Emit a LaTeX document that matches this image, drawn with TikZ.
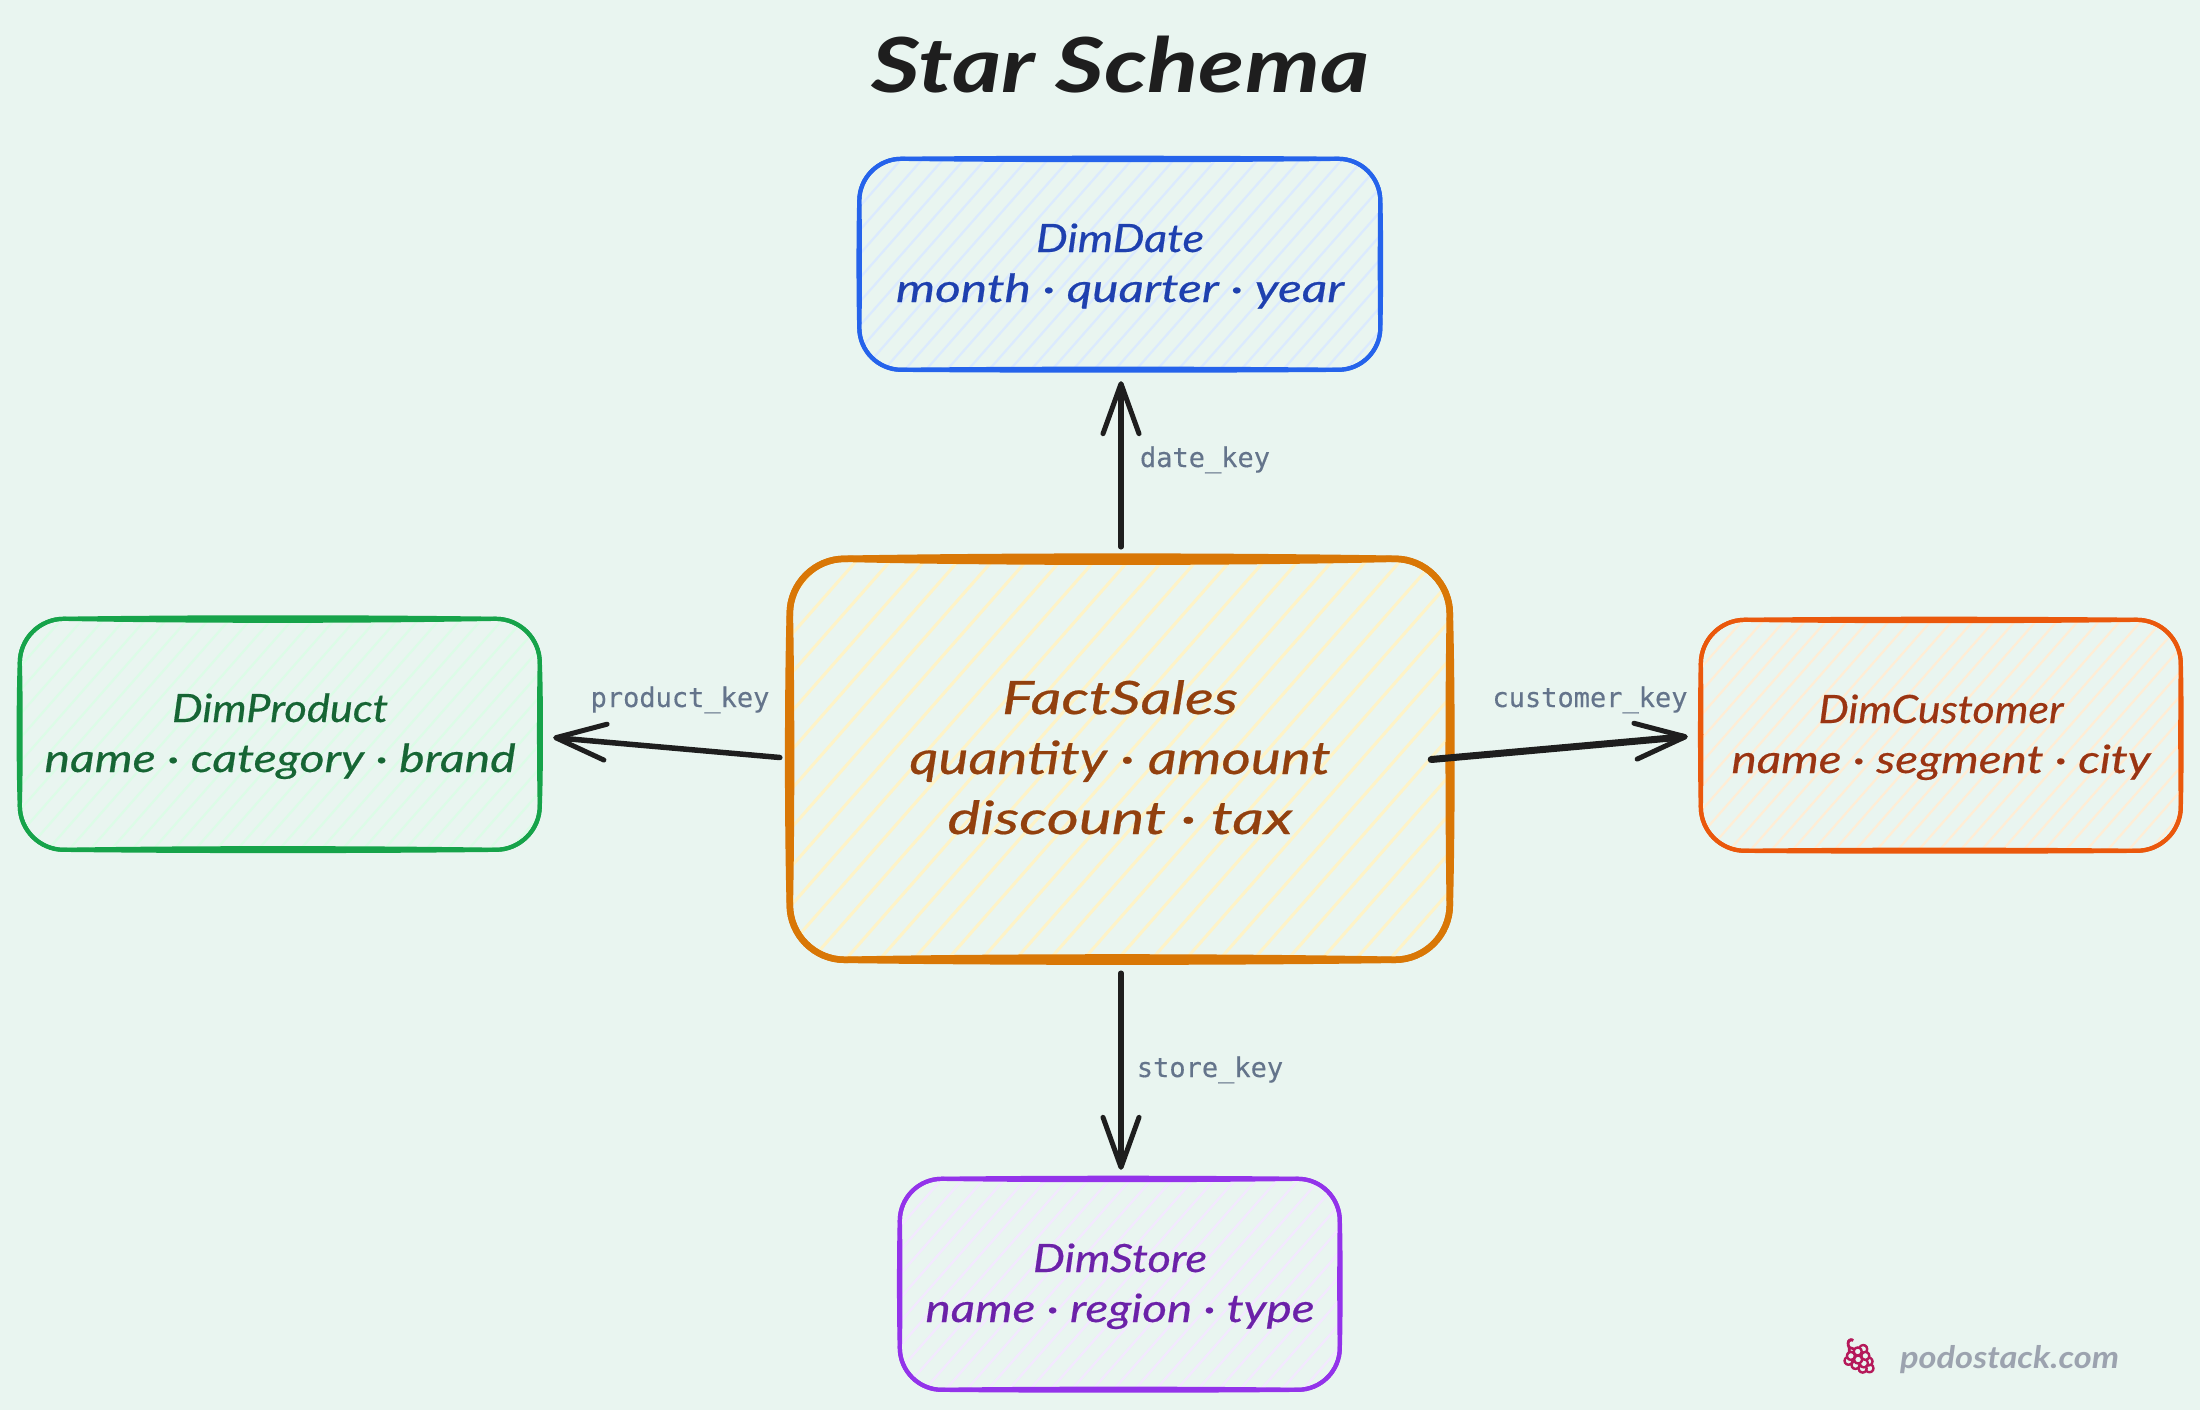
\documentclass[tikz,border=0pt]{standalone}
\usepackage{fontspec}
\usepackage{graphicx}
\usetikzlibrary{arrows.meta,calc}
\setmainfont{Lato}
\newfontfamily\hand{Lato}[ItalicFeatures={FakeBold=0.45}]
\newfontfamily\handb{Lato}
\newfontfamily\mono{DejaVu Sans Mono}[FakeBold=0.3]
\newfontfamily\emo{Noto Emoji}[FakeBold=3]
\definecolor{bgc}{HTML}{E9F5F0}
\definecolor{inkc}{HTML}{1E1E1E}
\definecolor{keyc}{HTML}{64748B}
\definecolor{markc}{HTML}{9CA3AF}
\definecolor{grapec}{HTML}{B5195A}
\definecolor{factS}{HTML}{D97706}\definecolor{factT}{HTML}{92400E}\definecolor{factH}{HTML}{FEF3C7}
\definecolor{dateS}{HTML}{2563EB}\definecolor{dateT}{HTML}{1E40AF}\definecolor{dateH}{HTML}{DBEAFE}
\definecolor{prodS}{HTML}{16A34A}\definecolor{prodT}{HTML}{166534}\definecolor{prodH}{HTML}{DCFCE7}
\definecolor{custS}{HTML}{EA580C}\definecolor{custT}{HTML}{9A3412}\definecolor{custH}{HTML}{FFEDD5}
\definecolor{storS}{HTML}{9333EA}\definecolor{storT}{HTML}{6B21A8}\definecolor{storH}{HTML}{F3E8FF}
% one line of hand text stretched to a given width at fixed font size
\newcommand\fitl[2]{\resizebox{#1pt}{\height}{#2}}
\newcommand\firstl{\rule{0pt}{44pt}}
\newcommand\lastl{\rule[-19pt]{0pt}{19pt}}
% hachure inside the node outline
\newcommand\hachure[5]{% colour, step, width, height, stroke
  \foreach \p in {0,#2,...,1500}{
    \draw[#1,line width=#5] ($(path picture bounding box.north west)+(\p,0)$) -- ++(-0.88*#4,#4);
  }}
\newcommand\roughpass[8]{%
  \pgfmathsetmacro\rW{#1}\pgfmathsetmacro\rH{#2}\pgfmathsetmacro\rR{#3}
  \draw[#4] (\rR,0)
   .. controls (\rW*.33,#5) and (\rW*.66,#5) .. (\rW-\rR,0)
   .. controls (\rW-.45*\rR,0) and (\rW,.45*\rR) .. (\rW,\rR)
   .. controls (\rW+#6,\rH*.33) and (\rW+#6,\rH*.66) .. (\rW,\rH-\rR)
   .. controls (\rW,\rH-.45*\rR) and (\rW-.45*\rR,\rH) .. (\rW-\rR,\rH)
   .. controls (\rW*.66,\rH+#7) and (\rW*.33,\rH+#7) .. (\rR,\rH)
   .. controls (.45*\rR,\rH) and (0,\rH-.45*\rR) .. (0,\rH-\rR)
   .. controls (#8,\rH*.66) and (#8,\rH*.33) .. (0,\rR)
   .. controls (0,.45*\rR) and (.45*\rR,0) .. (\rR,0) -- cycle;}
\newcommand\roughbox[6]{% name W H r style amp
  \begin{scope}[shift={(#1.north west)}]
    \roughpass{#2}{#3}{#4}{#5}{-1.2*#6}{.9*#6}{1.0*#6}{-.9*#6}
    \roughpass{#2}{#3}{#4}{#5}{1.6*#6}{-.6*#6}{-1.3*#6}{.7*#6}
  \end{scope}}
\tikzset{
  factbox/.style={inner sep=0pt,align=center,text=factT,minimum width=660pt,minimum height=401pt,rounded corners=55pt,
     font=\hand\itshape\fontsize{46}{60}\selectfont,
     path picture={\hachure{factH}{34}{660}{401}{3pt}}},
  dimbox/.style n args={5}{inner sep=0pt,align=center,text=#1,minimum width=#3pt,minimum height=#4pt,rounded corners=#5pt,
     font=\hand\itshape\fontsize{39}{50}\selectfont,
     path picture={\hachure{#2}{21}{#3}{#4}{2.2pt}}},
  link/.style={draw=inkc,line width=#1,line cap=round,-{Straight Barb[length=50pt,width=36pt,line width=5pt,round]}},
  keylabel/.style={text=keyc,font=\mono\fontsize{27}{30}\selectfont,anchor=base,inner sep=0pt},
  titletext/.style={text=inkc,font=\handb\itshape\bfseries\fontsize{76}{80}\selectfont,anchor=base,inner sep=0pt},
  marktext/.style={text=markc,font=\handb\itshape\bfseries\fontsize{31}{36}\selectfont,anchor=base,inner sep=0pt},
  grapetext/.style={text=grapec,font=\emo\fontsize{34}{36}\selectfont,anchor=center,inner sep=0pt},
}
\begin{document}
\begin{tikzpicture}[x=1pt,y=-1pt]
\useasboundingbox (0,0) rectangle (2200,1410);
\fill[bgc] (0,0) rectangle (2200,1410);

\node[titletext] (title) at (1120.5,93) {\fitl{497}{Star Schema}};

\node[factbox] (fact) at (1120,759.5) {\rule{0pt}{49pt}\fitl{236}{FactSales}\\\fitl{421}{quantity · amount}\\\fitl{345}{discount · tax}\rule[-20pt]{0pt}{20pt}};
\node[dimbox={dateT}{dateH}{521}{211}{42}] (date) at (1120,264.5) {\firstl\fitl{168}{DimDate}\\\fitl{448}{month · quarter · year}\lastl};
\node[dimbox={prodT}{prodH}{520}{231}{44}] (product) at (280,734.5) {\firstl\fitl{216}{DimProduct}\\\fitl{471}{name · category · brand}\lastl};
\node[dimbox={custT}{custH}{480}{231}{44}] (customer) at (1941,735.5) {\firstl\fitl{245}{DimCustomer}\\\fitl{419}{name · segment · city}\lastl};
\node[dimbox={storT}{storH}{440}{211}{42}] (store) at (1120,1284.5) {\firstl\fitl{174}{DimStore}\\\fitl{389}{name · region · type}\lastl};

\roughbox{fact}{660}{401}{55}{draw=factS,line width=6.5pt}{2.4}
\roughbox{date}{521}{211}{42}{draw=dateS,line width=4.2pt}{1.1}
\roughbox{product}{520}{231}{44}{draw=prodS,line width=4.2pt}{1.6}
\roughbox{customer}{480}{231}{44}{draw=custS,line width=4.2pt}{1.1}
\roughbox{store}{440}{211}{42}{draw=storS,line width=4.2pt}{1.1}

\draw[link=5.5pt] ([xshift=1pt,yshift=12pt]fact.north) -- ([xshift=1pt,yshift=-11pt]date.south);
\draw[link=5.5pt] ([xshift=1pt,yshift=-13pt]fact.south) -- ([xshift=1pt,yshift=9pt]store.north);
\draw[link=7pt] ([xshift=-19pt]fact.east) -- ([xshift=-13pt,yshift=-1pt]customer.west);
\draw[link=5.5pt] ([xshift=-10pt,yshift=2pt]fact.west) -- ([xshift=13pt,yshift=-3pt]product.east);

\node[keylabel] (kdate) at (1205,467) {date\_key};
\node[keylabel] (kstore) at (1210,1077) {store\_key};
\node[keylabel] (kprod) at (680,707) {product\_key};
\node[keylabel] (kcust) at (1590,707) {customer\_key};

\node[grapetext] (grape) at (1859,1356) {🍇};
\node[marktext] (mark) at (2009.5,1368) {\fitl{219}{podostack.com}};
\end{tikzpicture}
\end{document}
